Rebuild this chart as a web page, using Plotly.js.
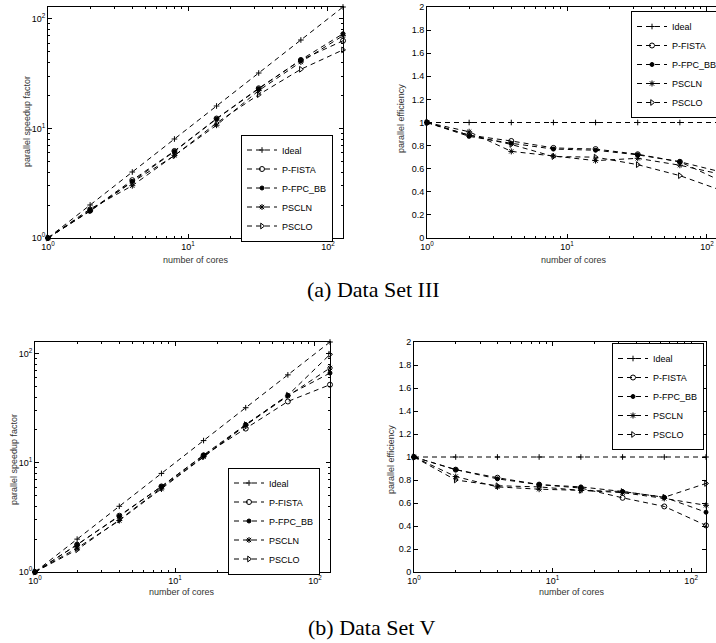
<!DOCTYPE html>
<html><head><meta charset="utf-8">
<script src="https://cdn.plot.ly/plotly-3.0.1.min.js"></script>
<style>html,body{margin:0;padding:0;overflow:hidden;background:#fff}</style>
</head><body><div id="chart" style="width:724px;height:643px"></div>
<script>
// ---- data ----
const cores = [1, 2, 4, 8, 16, 32, 64, 128];
const seriesNames = ['Ideal', 'P-FISTA', 'P-FPC_BB', 'PSCLN', 'PSCLO'];
const logTickVals = [1, 10, 100];
const logTickText = ['10<sup>0</sup>', '10<sup>1</sup>', '10<sup>2</sup>'];
const xTitle = 'number of cores';
const speedTitle = 'parallel speedup factor';
const effTitle = 'parallel efficiency';
const captionA = '(a) Data Set III';
const captionB = '(b) Data Set V';

// Data Set III - speedup
const spIII_ideal = [1, 2, 4, 8, 16, 32, 64, 128];
const spIII_fista = [1, 1.78, 3.37, 6.22, 12.3, 23.2, 42.0, 63];
const spIII_fpcbb = [1, 1.76, 3.28, 6.16, 12.2, 23.0, 42.2, 73];
const spIII_pscln = [1, 1.84, 3.0, 5.68, 10.7, 22.1, 40.3, 70];
const spIII_psclo = [1, 1.78, 3.24, 5.64, 11.2, 20.3, 34.6, 52];
// Data Set III - efficiency
const efIII_ideal = [1, 1, 1, 1, 1, 1, 1, 1];
const efIII_fista = [1, 0.89, 0.84, 0.78, 0.77, 0.725, 0.66, 0.49];
const efIII_fpcbb = [1, 0.88, 0.82, 0.77, 0.76, 0.72, 0.66, 0.57];
const efIII_pscln = [1, 0.92, 0.75, 0.71, 0.67, 0.69, 0.63, 0.55];
const efIII_psclo = [1, 0.89, 0.81, 0.705, 0.70, 0.635, 0.54, 0.41];
// Data Set V - speedup
const spV_ideal = [1, 2, 4, 8, 16, 32, 64, 128];
const spV_fista = [1, 1.78, 3.28, 6.08, 11.7, 20.6, 36.5, 52];
const spV_fpcbb = [1, 1.78, 3.24, 6.08, 11.8, 22.4, 41.6, 66.5];
const spV_pscln = [1, 1.66, 2.96, 5.76, 11.4, 22.1, 41.0, 74];
const spV_psclo = [1, 1.60, 3.0, 5.92, 11.4, 22.4, 41.6, 98.6];
// Data Set V - efficiency
const efV_ideal = [1, 1, 1, 1, 1, 1, 1, 1];
const efV_fista = [1, 0.89, 0.82, 0.76, 0.73, 0.645, 0.57, 0.405];
const efV_fpcbb = [1, 0.89, 0.81, 0.76, 0.74, 0.70, 0.65, 0.52];
const efV_pscln = [1, 0.83, 0.74, 0.72, 0.71, 0.69, 0.64, 0.58];
const efV_psclo = [1, 0.80, 0.75, 0.74, 0.71, 0.70, 0.65, 0.77];

// ---- styles ----
const W = 724, H = 643;
const FONT = 'Liberation Sans, Arial, Helvetica, sans-serif';
const SERIF = 'Liberation Serif, Times New Roman, serif';
const symbols = ['cross-thin-open', 'circle-open', 'circle', 'asterisk-open', 'triangle-right-open'];
const msizes = [4, 5, 4, 5, 5];
const dashStyle = '5px,4px';

function makeTraces(ys, xa, ya, legendId) {
  return ys.map((y, i) => ({
    x: cores, y: y, name: seriesNames[i], type: 'scatter', mode: 'lines+markers',
    xaxis: xa, yaxis: ya, legend: legendId, cliponaxis: false,
    line: {color: 'black', width: 1, dash: dashStyle},
    marker: {symbol: symbols[i], size: msizes[i], color: 'black', line: {color: 'black', width: 1}}
  }));
}

const traces = [].concat(
  makeTraces([spIII_ideal, spIII_fista, spIII_fpcbb, spIII_pscln, spIII_psclo], 'x', 'y', 'legend'),
  makeTraces([efIII_ideal, efIII_fista, efIII_fpcbb, efIII_pscln, efIII_psclo], 'x2', 'y2', 'legend2'),
  makeTraces([spV_ideal, spV_fista, spV_fpcbb, spV_pscln, spV_psclo], 'x3', 'y3', 'legend3'),
  makeTraces([efV_ideal, efV_fista, efV_fpcbb, efV_pscln, efV_psclo], 'x4', 'y4', 'legend4')
);

const px = v => v / W;
const py = v => 1 - v / H;
const xr = [0, Math.log10(128)];

const common = {
  automargin: false, ticks: 'inside', ticklen: 4, tickwidth: 1, tickcolor: 'black',
  showline: true, linecolor: 'black', linewidth: 1, mirror: 'ticks', showgrid: false, zeroline: false,
  tickfont: {family: FONT, size: 9, color: 'black'}
};
const minorLog = {dtick: 'D1', ticks: 'inside', ticklen: 2, tickcolor: 'black', showgrid: false};

function xAxis(l, r, anchor) {
  return Object.assign({}, common, {
    type: 'log', domain: [px(l), px(r)], range: xr, anchor: anchor,
    tickmode: 'array', tickvals: logTickVals, ticktext: logTickText, minor: minorLog
  });
}
function ySpeed(t, b, anchor) {
  return Object.assign({}, common, {
    type: 'log', domain: [py(b), py(t)], range: xr, anchor: anchor,
    tickmode: 'array', tickvals: logTickVals, ticktext: logTickText, minor: minorLog
  });
}
function yEff(t, b, anchor) {
  return Object.assign({}, common, {
    type: 'linear', domain: [py(b), py(t)], range: [0, 2], anchor: anchor,
    tickmode: 'linear', tick0: 0, dtick: 0.2
  });
}
function legendBox(x, y, xanchor, yanchor) {
  return {x: x, y: y, xanchor: xanchor, yanchor: yanchor, xref: 'paper', yref: 'paper',
    bgcolor: 'white', bordercolor: 'black', borderwidth: 1, tracegroupgap: 0,
    font: {family: FONT, size: 9, color: 'black'}, itemwidth: 30};
}
function axTitle(text, x, y, angle) {
  return {text: text, x: px(x), y: py(y), xref: 'paper', yref: 'paper', showarrow: false,
    textangle: angle, xanchor: 'center', yanchor: 'middle',
    font: {family: FONT, size: 9, color: '#333'}};
}
function caption(text, x, y) {
  return {text: text, x: px(x), y: py(y), xref: 'paper', yref: 'paper', showarrow: false,
    xanchor: 'center', yanchor: 'middle', font: {family: SERIF, size: 22, color: 'black'}};
}

const layout = {
  width: W, height: H, margin: {l: 0, r: 0, t: 0, b: 0},
  paper_bgcolor: 'white', plot_bgcolor: 'white', showlegend: true,
  xaxis: xAxis(48, 343, 'y'), yaxis: ySpeed(7, 238, 'x'),
  xaxis2: xAxis(427, 722, 'y2'), yaxis2: yEff(7, 238, 'x2'),
  xaxis3: xAxis(35, 330, 'y3'), yaxis3: ySpeed(342, 572, 'x3'),
  xaxis4: xAxis(414, 706, 'y4'), yaxis4: yEff(342, 572, 'x4'),
  legend: legendBox(px(333), py(188), 'right', 'middle'),
  legend2: legendBox(px(631), py(11), 'left', 'top'),
  legend3: legendBox(px(320), py(521), 'right', 'middle'),
  legend4: legendBox(px(704), py(343), 'right', 'top'),
  annotations: [
    axTitle(xTitle, 196, 260, 0),
    axTitle(xTitle, 574, 260, 0),
    axTitle(xTitle, 182, 592, 0),
    axTitle(xTitle, 572, 592, 0),
    axTitle(speedTitle, 27, 122, -90),
    axTitle(effTitle, 401, 119, -90),
    axTitle(speedTitle, 14, 460, -90),
    axTitle(effTitle, 391, 460, -90),
    caption(captionA, 374, 290),
    caption(captionB, 371, 627)
  ]
};

Plotly.newPlot('chart', traces, layout, {displayModeBar: false, staticPlot: true});
</script></body></html>
